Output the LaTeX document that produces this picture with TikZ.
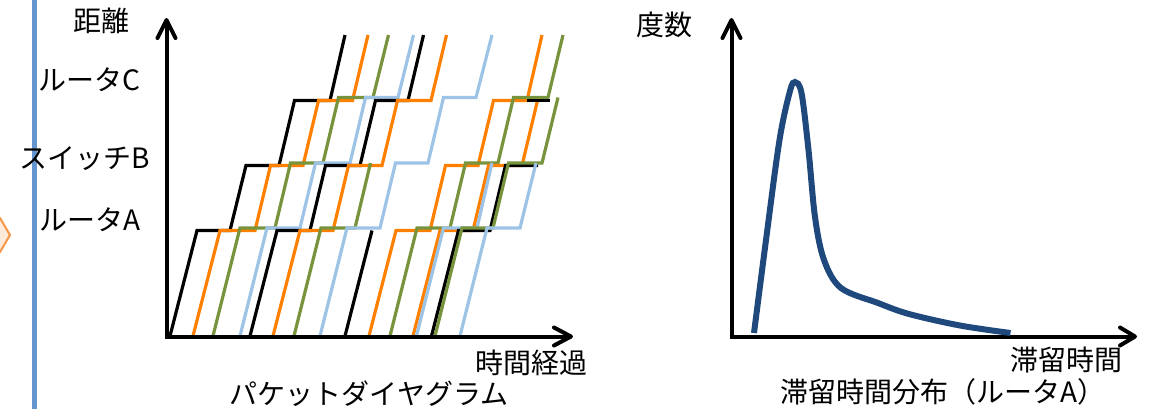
\documentclass[tikz,border=0pt]{standalone}
\usepackage{fontspec}
\setmainfont{Noto Sans CJK JP}
\definecolor{pkorange}{RGB}{255,128,0}
\definecolor{pkgreen}{RGB}{119,147,60}
\definecolor{pkblue}{RGB}{157,195,230}
\definecolor{curveblue}{RGB}{31,73,125}
\definecolor{sideblue}{RGB}{100,149,207}
\definecolor{chevfill}{RGB}{253,234,218}
\definecolor{chevdraw}{RGB}{247,150,70}
\begin{document}
\begin{tikzpicture}[x=1pt,y=-1pt,
  pk/.style={line width=3.2pt,line join=miter},
  axisline/.style={line width=4pt,black},
  axishead/.style={line width=4pt,black,line join=round,line cap=round},
  lbl/.style={inner sep=0pt,font=\fontsize{28}{32}\selectfont}]
\useasboundingbox (0,0) rectangle (1153,408);
\clip (0,0) rectangle (1153,408);
% side decorations
\draw[chevdraw,fill=chevfill,line width=2pt] (-30,218) -- (0,218) -- (10,235) -- (0,252) -- (-30,252) -- cycle;
\draw[sideblue,line width=5pt] (34,-5) -- (34,415);
% ---------- packet diagram ----------
% packet 1 black
\draw[pk,black] (170,336) -- (197,230.5) -- (230,230.5) -- (246,165.5) -- (279,165.5) -- (294.5,100.5) -- (330,100.5) -- (345,35);
% packet 2 orange
\draw[pk,pkorange] (193,336) -- (220,230.5) -- (255,230.5) -- (270.5,165.5) -- (303,165.5) -- (318.5,100.5) -- (352.5,100.5) -- (368,35);
% packet 3 green
\draw[pk,pkgreen] (213,336) -- (240,228) -- (275,228) -- (290.5,163) -- (323,163) -- (338.5,97.5) -- (373,97.5) -- (388.5,35);
% packet 4 blue
\draw[pk,pkblue] (240,336) -- (267,228) -- (300,228) -- (315.5,163) -- (350,163) -- (365.5,97.5) -- (398,97.5) -- (413.5,35);
% packet 5 black
\draw[pk,black] (250,336) -- (277,230.5) -- (310,230.5) -- (325.5,165.5) -- (360,165.5) -- (375.5,100.5) -- (408,100.5) -- (423.5,35);
% packet 6 orange
\draw[pk,pkorange] (273,336) -- (300,230.5) -- (333,230.5) -- (348.5,165.5) -- (382,165.5) -- (397.5,100.5) -- (431,100.5) -- (446.5,35);
% packet 7 green
\draw[pk,pkgreen] (294,336) -- (321,228) -- (355,228) -- (370.5,163);
% packet 8 blue
\draw[pk,pkblue] (320,336) -- (347,228) -- (380,228) -- (395.5,163) -- (428,163) -- (443.5,97.5) -- (476,97.5) -- (492,35);
% packet 9 black
\draw[pk,black] (345,336) -- (372,230.5);
% packet 10 orange
\draw[pk,pkorange] (369,336) -- (396,230.5) -- (430,230.5) -- (445.5,165.5) -- (478,165.5) -- (493.5,100.5) -- (527,100.5) -- (542,35);
% packet 11 green
\draw[pk,pkgreen] (390,336) -- (417,228) -- (450,228) -- (465.5,163) -- (498,163) -- (513.5,97.5) -- (548,97.5) -- (563,35);
% packet 12 orange
\draw[pk,pkorange] (413,336) -- (440,230.5) -- (473,230.5) -- (488.5,165.5) -- (522,165.5) -- (537.5,100.5);
% packet 13 blue
\draw[pk,pkblue] (416.5,336) -- (443.5,228) -- (477,228) -- (492,163);
% packet 14 black
\draw[pk,black] (431.5,336) -- (458.5,230.5) -- (490,230.5) -- (505.5,165.5) -- (538,165.5);
\draw[pk,black] (527,100.5) -- (550,100.5);
% packet 15 green
\draw[pk,pkgreen] (435,336) -- (462,228) -- (493,228) -- (508.5,163) -- (542,163) -- (558,97.5);
% packet 16 blue
\draw[pk,pkblue] (460,336) -- (487,228) -- (520,228) -- (536,163);
% left axes
\draw[axisline] (166.5,338.5) -- (166.5,21);
\draw[axishead] (157.5,38) -- (166.5,20) -- (175.5,38);
\draw[axisline] (164.5,336.5) -- (569,336.5);
\draw[axishead] (554,327.5) -- (571,336.5) -- (554,345.5);
% ---------- dwell time distribution ----------
\draw[axisline] (731.5,338.5) -- (731.5,21);
\draw[axishead] (722.5,38) -- (731.5,20) -- (740.5,38);
\draw[axisline] (729.5,336.5) -- (1133,336.5);
\draw[axishead] (1120,327.5) -- (1135,336.5) -- (1120,345.5);
\draw[curveblue,line width=6pt] plot[smooth,tension=0.55] coordinates {
  (754,333) (766,240) (779.5,140) (790,91) (795,82) (801.5,93) (808.5,150)
  (815,217) (824,260) (841,288) (878,303) (909,314) (960,325.5) (1010.5,333)};
% ---------- labels ----------
\node[lbl] (dist) at (101.5,21) {距離};
\node[lbl] (rC) at (89,79.5) {ルータC};
\node[lbl] (sB) at (85,158.5) {スイッチB};
\node[lbl] (rA) at (90,219.5) {ルータA};
\node[lbl] (tx) at (531.5,362.5) {時間経過};
\node[lbl] (cap1) at (369,394) {パケットダイヤグラム};
\node[lbl] (freq) at (664,25) {度数};
\node[lbl] (dwell) at (1066,360.5) {滞留時間};
\node[lbl] (cap2) at (943,391.5) {滞留時間分布（ルータA）};
\end{tikzpicture}
\end{document}
